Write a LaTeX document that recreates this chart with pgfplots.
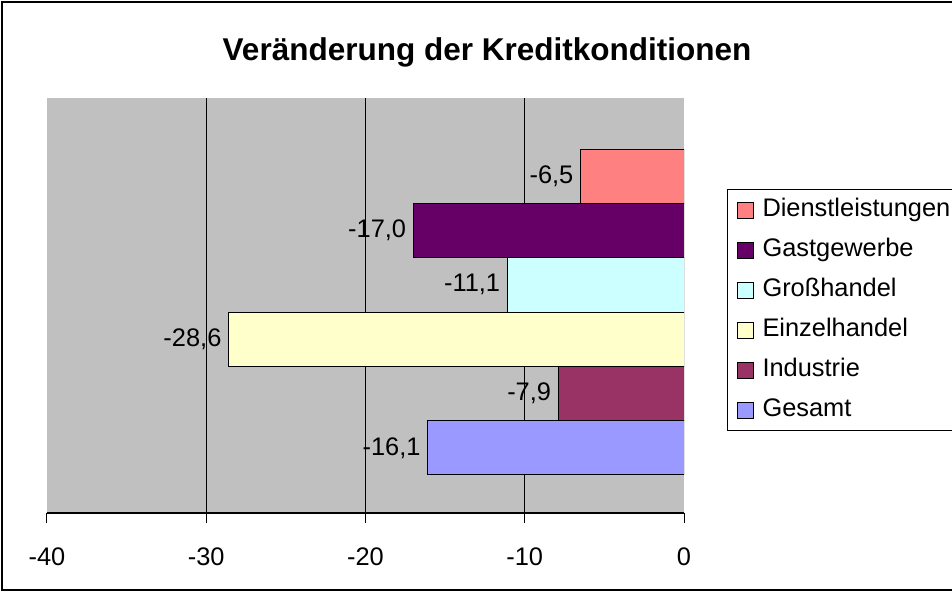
\documentclass[border=0pt]{standalone}
\usepackage{pgfplots}
\pgfplotsset{compat=1.18}
\usepackage{fontspec}
\setmainfont{Liberation Sans}
\definecolor{bg}{HTML}{C0C0C0}
\definecolor{cDienst}{HTML}{FF8080}
\definecolor{cGast}{HTML}{660066}
\definecolor{cGross}{HTML}{CCFFFF}
\definecolor{cEinzel}{HTML}{FFFFCC}
\definecolor{cIndu}{HTML}{993366}
\definecolor{cGes}{HTML}{9999FF}
\newcommand{\txt}{\fontsize{12.7}{15}\selectfont}
\begin{document}
\begin{tikzpicture}
\useasboundingbox (-23.5pt,-39.5pt) rectangle (452.5pt,256.5pt);
\clip (-23.5pt,-39.5pt) rectangle (452.5pt,256.5pt);
\fill[white] (-23.5pt,-39.5pt) rectangle (452.5pt,256.5pt);
\draw[line width=1pt] (-22.5pt,-38.5pt) rectangle (460pt,255.5pt);
\node[font=\bfseries\fontsize{15.75}{18}\selectfont] at (220pt,230.5pt) {Veränderung der Kreditkonditionen};
\begin{axis}[
  at={(0pt,0pt)}, anchor=south west,
  scale only axis, width=318.5pt, height=207.5pt,
  xmin=-40, xmax=0, ymin=0, ymax=7.64,
  axis x line*=bottom, axis y line=none,
  axis background/.style={fill=bg},
  x axis line style={line width=0.75pt, black},
  xtick={-40,-30,-20,-10,0},
  tick align=outside, major tick length=5pt,
  tick style={black, line width=0.5pt},
  ytick=\empty,
  extra x ticks={-30,-20,-10},
  extra x tick labels={},
  extra x tick style={grid=major, major tick length=0pt},
  major grid style={black, line width=0.5pt},
  /pgf/number format/assume math mode=true,
  tick label style={font=\txt},
  xticklabel style={yshift=-9pt},
  point meta=x,
  nodes near coords={\pgfmathprintnumber[fixed,fixed zerofill,precision=1,use comma,assume math mode=true]{\pgfplotspointmeta}},
  nodes near coords align=horizontal,
  nodes near coords style={font=\txt, text=black},
  every axis plot/.append style={xbar, bar shift=0pt, bar width=27.15pt, draw=black, line width=0.5pt},
  legend image code/.code={\draw[#1, line width=0.5pt] (0pt,-4pt) rectangle (8pt,4pt);},
  legend cell align=left,
  legend style={at={(axis description cs:1,1)}, anchor=north west,
    xshift=21.5pt, yshift=-45.5pt, draw=black, line width=0.5pt, fill=white,
    font=\txt, inner sep=4.5pt, row sep=8.5pt, column sep=4.5pt,
    nodes={inner sep=0pt, text height=9pt, text depth=2.5pt}},
]
\addplot[fill=cDienst] coordinates {(-6.5,6.2)};
\addlegendentry{Dienstleistungen}
\addplot[fill=cGast] coordinates {(-17.0,5.2)};
\addlegendentry{Gastgewerbe}
\addplot[fill=cGross] coordinates {(-11.1,4.2)};
\addlegendentry{Großhandel}
\addplot[fill=cEinzel] coordinates {(-28.6,3.2)};
\addlegendentry{Einzelhandel}
\addplot[fill=cIndu] coordinates {(-7.9,2.2)};
\addlegendentry{Industrie}
\addplot[fill=cGes] coordinates {(-16.1,1.2)};
\addlegendentry{Gesamt}
\end{axis}
\end{tikzpicture}
\end{document}
